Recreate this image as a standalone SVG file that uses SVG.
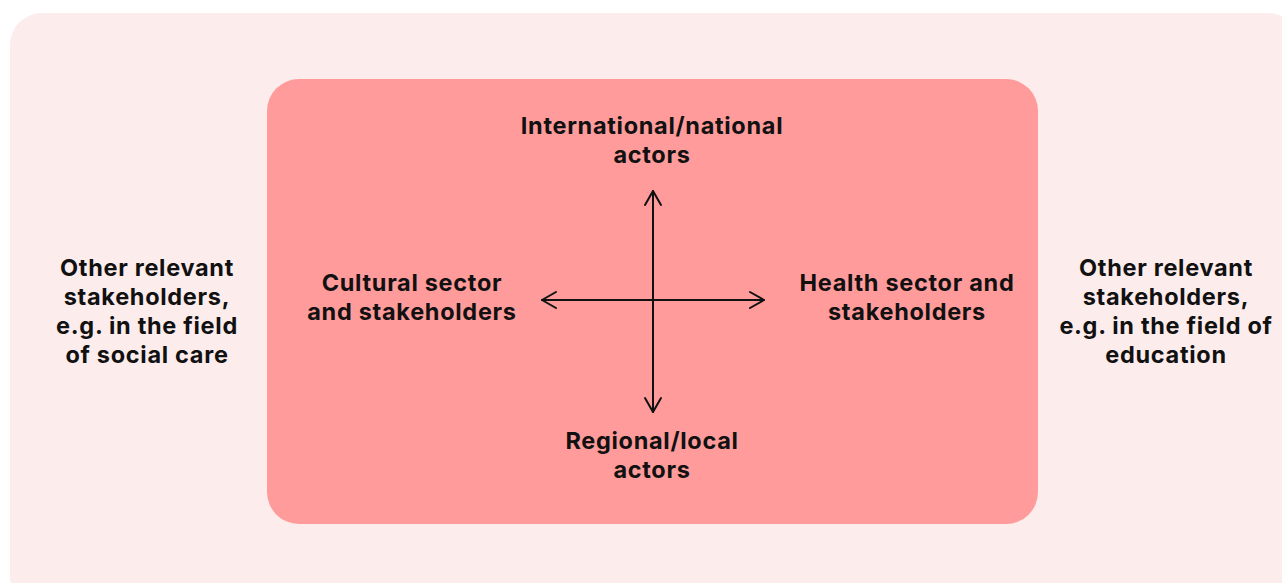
<svg xmlns="http://www.w3.org/2000/svg" width="1282" height="583" viewBox="0 0 1282 583">
<style>
.t{font-family:Inter,"Noto Sans","Liberation Sans",sans-serif;font-weight:700;font-size:23.5px;letter-spacing:0.7px;fill:#111;text-anchor:middle}
.c{stroke:#111;stroke-width:2;fill:none;stroke-linecap:round;stroke-linejoin:round}
</style>
<rect x="0" y="0" width="1282" height="583" fill="#fff"/>
<g id="outer"><rect x="10" y="13" width="1290" height="595" rx="32" fill="#FDECEC"/></g>
<g id="inner"><rect x="267" y="79" width="771" height="445" rx="32" fill="#FF9B9B"/></g>
<g id="connectors" class="c">
<path d="M653 191 V412"/>
<path d="M645 205 L653 191 L661 205"/>
<path d="M645 398 L653 412 L661 398"/>
<path d="M542 300 H764"/>
<path d="M556 292 L542 300 L556 308"/>
<path d="M750 292 L764 300 L750 308"/>
</g>
<g id="n-top"><text class="t" x="652" y="134">International/national</text><text class="t" x="652" y="163">actors</text></g>
<g id="n-bottom"><text class="t" x="652" y="449">Regional/local</text><text class="t" x="652" y="478">actors</text></g>
<g id="n-left"><text class="t" x="412" y="291">Cultural sector</text><text class="t" x="412" y="320">and stakeholders</text></g>
<g id="n-right"><text class="t" x="907" y="291">Health sector and</text><text class="t" x="907" y="320">stakeholders</text></g>
<g id="n-farleft"><text class="t" x="147" y="276">Other relevant</text><text class="t" x="147" y="305">stakeholders,</text><text class="t" x="147" y="334">e.g. in the field</text><text class="t" x="147" y="363">of social care</text></g>
<g id="n-farright"><text class="t" x="1166" y="276">Other relevant</text><text class="t" x="1166" y="305">stakeholders,</text><text class="t" x="1166" y="334">e.g. in the field of</text><text class="t" x="1166" y="363">education</text></g>
</svg>
